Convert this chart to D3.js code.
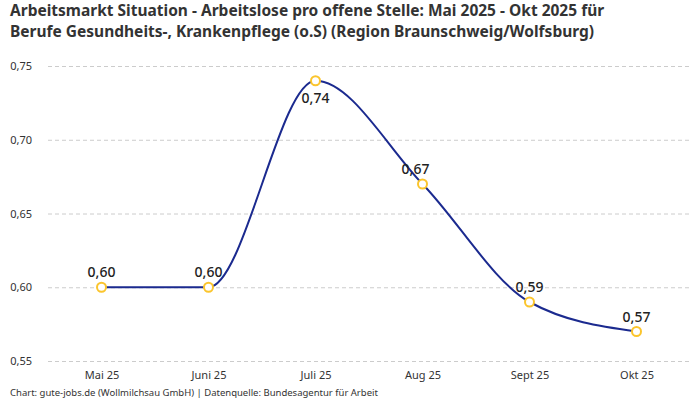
<!DOCTYPE html>
<html>
<head>
<meta charset="utf-8">
<script src="https://cdn.jsdelivr.net/npm/d3@7"></script>
<style>
  body { margin: 0; background: #fff; }
  svg { font-family: "Noto Sans", sans-serif; }
</style>
</head>
<body>
<div id="chart"></div>
<script>
const months = ["Mai 25", "Juni 25", "Juli 25", "Aug 25", "Sept 25", "Okt 25"];
const values = [0.60, 0.60, 0.74, 0.67, 0.59, 0.57];
const yTicks = [0.55, 0.60, 0.65, 0.70, 0.75];
const titleLines = [
    "Arbeitsmarkt Situation - Arbeitslose pro offene Stelle: Mai 2025 - Okt 2025 für",
    "Berufe Gesundheits-, Krankenpflege (o.S) (Region Braunschweig/Wolfsburg)"
];
// where each value label sits relative to its point
const labelPos = ["above", "above", "below", "above-left", "above", "above"];

const w = 700;
const h = 400;
const fmt = v => d3.format(".2f")(v).replace(".", ",");

const svg = d3.select("#chart")
    .append("svg")
    .attr("width", w)
    .attr("height", h);

// Title, one text per line
svg.selectAll(".title")
    .data(titleLines)
    .enter()
    .append("text")
    .attr("class", "title")
    .attr("x", 10)
    .attr("y", (d, i) => 16 + i * 21)
    .attr("font-size", 15.5)
    .attr("font-weight", "bold")
    .attr("fill", "#333")
    .text(d => d);

const xScale = d3.scalePoint()
    .domain(months)
    .range([48, 690])
    .padding(0.5);

const yScale = d3.scaleLinear()
    .domain([0.55, 0.75])
    .range([361, 66]);

// Grid + y labels
const yAxis = d3.axisLeft(yScale)
    .tickValues(yTicks)
    .tickSize(-(690 - 48))
    .tickPadding(16)
    .tickFormat(fmt);

svg.append("g")
    .attr("transform", "translate(48,0)")
    .call(yAxis)
    .call(g => g.select(".domain").remove())
    .call(g => g.selectAll("line")
        .attr("stroke", "#ccc")
        .attr("stroke-dasharray", "4,3"))
    .call(g => g.selectAll("text")
        .attr("x", -16)
        .attr("fill", "#333")
        .attr("font-size", 11)
        .attr("font-family", "Noto Sans, sans-serif")
        .attr("text-anchor", "end"));

// x labels
const xAxis = d3.axisBottom(xScale).tickSize(0).tickPadding(8);
svg.append("g")
    .attr("transform", "translate(0,363)")
    .call(xAxis)
    .call(g => g.select(".domain").remove())
    .call(g => g.selectAll("text")
        .attr("fill", "#333")
        .attr("font-size", 11)
        .attr("font-family", "Noto Sans, sans-serif"));

// Line
const lineFun = d3.line()
    .x((d, i) => xScale(months[i]))
    .y(d => yScale(d))
    .curve(d3.curveMonotoneX);

svg.append("path")
    .datum(values)
    .attr("fill", "none")
    .attr("stroke", "#1b2a8f")
    .attr("stroke-width", 2)
    .attr("d", lineFun);

// Points
svg.selectAll(".pt")
    .data(values)
    .enter()
    .append("circle")
    .attr("class", "pt")
    .attr("cx", (d, i) => xScale(months[i]))
    .attr("cy", d => yScale(d))
    .attr("r", 4.5)
    .attr("fill", "#fff")
    .attr("stroke", "#fbc52d")
    .attr("stroke-width", 2);

// Value labels
svg.selectAll(".lbl")
    .data(values)
    .enter()
    .append("text")
    .attr("class", "lbl")
    .attr("x", (d, i) => xScale(months[i]) + (labelPos[i] === "above-left" ? -7 : 0))
    .attr("y", (d, i) => yScale(d) + (labelPos[i] === "below" ? 22 : -10))
    .attr("text-anchor", "middle")
    .attr("font-size", 14)
    .attr("font-weight", 500)
    .attr("fill", "#222")
    .text(fmt);

// Footer
svg.append("text")
    .attr("x", 10)
    .attr("y", 396)
    .attr("font-size", 9.5)
    .attr("fill", "#333")
    .text("Chart: gute-jobs.de (Wollmilchsau GmbH) | Datenquelle: Bundesagentur für Arbeit");
</script>
</body>
</html>
